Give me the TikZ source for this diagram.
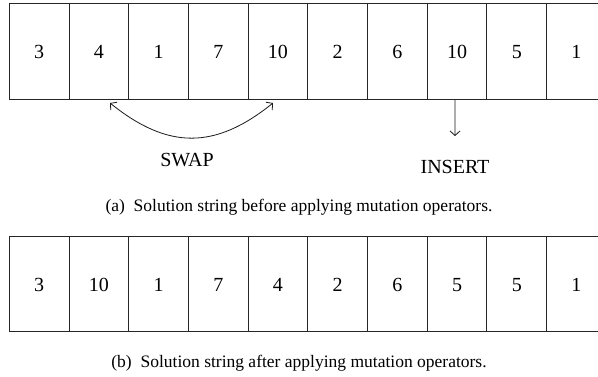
\documentclass[tikz,border=0pt]{standalone}
\usepackage{fontspec}
\setmainfont{Liberation Serif}
\usetikzlibrary{arrows.meta}
\begin{document}
\begin{tikzpicture}[x=1pt,y=-1pt,
  cell/.style={draw=black!85, line width=1pt, minimum width=59.7pt, minimum height=95.6pt, inner sep=0pt, text height=14pt, text depth=0pt, font=\fontsize{20}{23}\selectfont},
  lbl/.style={inner sep=0pt, font=\fontsize{20}{23}\selectfont},
  captext/.style={inner sep=0pt, font=\fontsize{17.5}{21}\selectfont},
  conn/.style={line width=0.8pt, black!90}
]
\useasboundingbox (0,0) rectangle (598,377);
\clip (0,0) rectangle (598,377);
% top row
\foreach \v [count=\i] in {3,4,1,7,10,2,6,10,5,1}{
  \node[cell] (a\i) at ({9.3+(\i-0.5)*59.7},51.5) {\v};
}
% bottom row
\foreach \v [count=\i] in {3,10,1,7,4,2,6,5,5,1}{
  \node[cell] (b\i) at ({9.3+(\i-0.5)*59.7},284.2) {\v};
}
\coordinate (s1) at (110,103);
\coordinate (s2) at (273,103);
\draw[conn, {Straight Barb[length=4.5pt,width=10pt]}-{Straight Barb[length=4.5pt,width=10pt]}] (s1) .. controls (168,149.7) and (215,149.7) .. (s2);
\node[lbl] (swap) at (187,160) {SWAP};
\coordinate (ins) at (455,136);
\draw[conn, -{Straight Barb[length=4.5pt,width=10pt]}] ([xshift=-2pt]a8.south) -- (ins);
\node[lbl] (insert) at (455,167) {INSERT};
\node[captext] (capa) at (299,207) {(a)\enspace Solution string before applying mutation operators.};
\node[captext] (capb) at (299,363) {(b)\enspace Solution string after applying mutation operators.};
\end{tikzpicture}
\end{document}
